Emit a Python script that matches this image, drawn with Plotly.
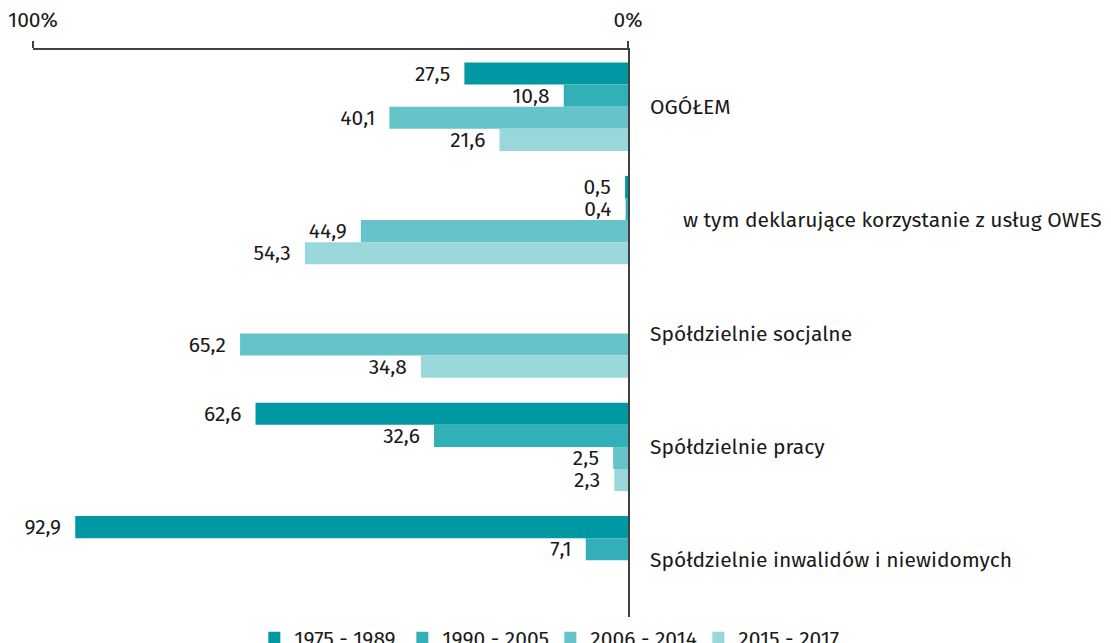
import plotly.graph_objects as go

categories = ["OGÓŁEM", "w tym deklarujące korzystanie z usług OWES", "Spółdzielnie socjalne",
              "Spółdzielnie pracy", "Spółdzielnie inwalidów i niewidomych"]
series_names = ["1975 - 1989", "1990 - 2005", "2006 - 2014", "2015 - 2017"]
s1975_1989 = [27.5, 0.5, None, 62.6, 92.9]
s1990_2005 = [10.8, 0.4, None, 32.6, 7.1]
s2006_2014 = [40.1, 44.9, 65.2, 2.5, None]
s2015_2017 = [21.6, 54.3, 34.8, 2.3, None]
colors = ["#0099a3", "#33afb8", "#66c3ca", "#9ad7db"]

FONT = "Fira Sans, Noto Sans, sans-serif"
FS = 21
fig = go.Figure()
for name, vals, col in zip(series_names, [s1975_1989, s1990_2005, s2006_2014, s2015_2017], colors):
    fig.add_trace(go.Bar(
        y=categories, x=vals, name=name, orientation="h",
        marker=dict(color=col, line=dict(width=0)),
        texttemplate="%{x:.1f}\u00a0\u00a0", textposition="outside", cliponaxis=False,
        constraintext="none",
        textfont=dict(size=FS, color="#1a1a1a", family=FONT),
    ))

label_x = [1.034, 1.089, 1.034, 1.034, 1.034]
for cat, lx in zip(categories, label_x):
    fig.add_annotation(text=cat, x=lx, y=cat, xref="paper", yref="y",
                       xanchor="left", yanchor="middle", showarrow=False,
                       font=dict(size=FS, color="#1a1a1a", family=FONT))

# page body has an 8px margin, so plot-area offsets are reduced by 8px
fig.update_layout(
    width=1111, height=643,
    margin=dict(l=25, r=491, t=42, b=34, autoexpand=False),
    plot_bgcolor="white", paper_bgcolor="white",
    barmode="group", bargap=0.22, bargroupgap=0,
    separators=", ",
    font=dict(family=FONT, size=FS, color="#1a1a1a"),
    showlegend=True,
    legend=dict(orientation="h", x=0.372, xanchor="left",
                y=-0.037, yanchor="middle",
                entrywidth=103, entrywidthmode="pixels", traceorder="normal",
                font=dict(size=FS, family=FONT), bgcolor="rgba(0,0,0,0)"),
)
fig.update_xaxes(range=[100, 0], side="top", showline=True, linecolor="#404040", linewidth=1.5,
                 tickvals=[100, 0], ticktext=["100%", "0%"], ticks="outside", ticklen=7,
                 tickcolor="#404040", tickwidth=1.5, showgrid=False, zeroline=False,
                 ticklabelstandoff=6,
                 tickfont=dict(size=FS, family=FONT, color="#1a1a1a"), fixedrange=True)
fig.update_yaxes(autorange="reversed", side="right", showline=True, linecolor="#404040",
                 linewidth=2, showticklabels=False, ticks="", showgrid=False, zeroline=False)

fig.write_html("out.html")
